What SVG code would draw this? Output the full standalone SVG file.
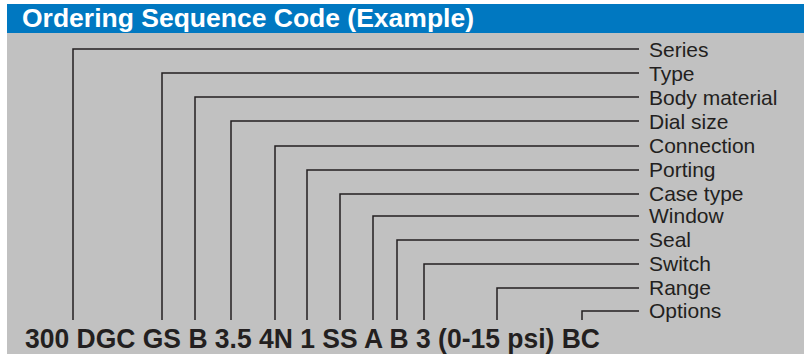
<svg xmlns="http://www.w3.org/2000/svg" width="804" height="354" viewBox="0 0 804 354">
<style>
.bg{fill:#c1c1c1}
.hdr{fill:#0078c1}
.title{font-family:"Liberation Sans",Arial,sans-serif;font-weight:bold;font-size:25px;fill:#ffffff}
.lbl{font-family:"Liberation Sans",Arial,sans-serif;font-size:21px;fill:#231f20}
.code{font-family:"Liberation Sans",Arial,sans-serif;font-weight:bold;font-size:27px;fill:#231f20}
.ln{fill:none;stroke:#231f20;stroke-width:1.5}
</style>
<rect width="804" height="354" fill="#ffffff"/>
<rect class="bg" x="7" y="33" width="797" height="321"/>
<g id="header">
<rect class="hdr" x="7" y="4" width="797" height="29"/>
<text class="title" x="22" y="27" textLength="452" lengthAdjust="spacingAndGlyphs">Ordering Sequence Code (Example)</text>
</g>
<g id="connectors">
<polyline class="ln" points="73,320 73,49 639,49"/>
<polyline class="ln" points="162,320 162,73 639,73"/>
<polyline class="ln" points="195,320 195,97 639,97"/>
<polyline class="ln" points="231,320 231,121 639,121"/>
<polyline class="ln" points="275,320 275,146 639,146"/>
<polyline class="ln" points="307,320 307,170 639,170"/>
<polyline class="ln" points="340,320 340,194 639,194"/>
<polyline class="ln" points="373,320 373,216 639,216"/>
<polyline class="ln" points="397,320 397,240 639,240"/>
<polyline class="ln" points="424,320 424,264 639,264"/>
<polyline class="ln" points="497,320 497,288 639,288"/>
<polyline class="ln" points="582,320 582,311 639,311"/>
</g>
<g id="series"><text class="lbl" x="649" y="56.5">Series</text></g>
<g id="type"><text class="lbl" x="649" y="80.5">Type</text></g>
<g id="body-material"><text class="lbl" x="649" y="104.5">Body material</text></g>
<g id="dial-size"><text class="lbl" x="649" y="128.5">Dial size</text></g>
<g id="connection"><text class="lbl" x="649" y="153">Connection</text></g>
<g id="porting"><text class="lbl" x="649" y="177">Porting</text></g>
<g id="case-type"><text class="lbl" x="649" y="201">Case type</text></g>
<g id="window"><text class="lbl" x="649" y="223">Window</text></g>
<g id="seal"><text class="lbl" x="649" y="247">Seal</text></g>
<g id="switch"><text class="lbl" x="649" y="271">Switch</text></g>
<g id="range"><text class="lbl" x="649" y="295">Range</text></g>
<g id="options"><text class="lbl" x="649" y="318">Options</text></g>
<g id="code"><text class="code" x="25" y="348" textLength="575" lengthAdjust="spacingAndGlyphs">300 DGC GS B 3.5 4N 1 SS A B 3 (0-15 psi) BC</text></g>
</svg>
